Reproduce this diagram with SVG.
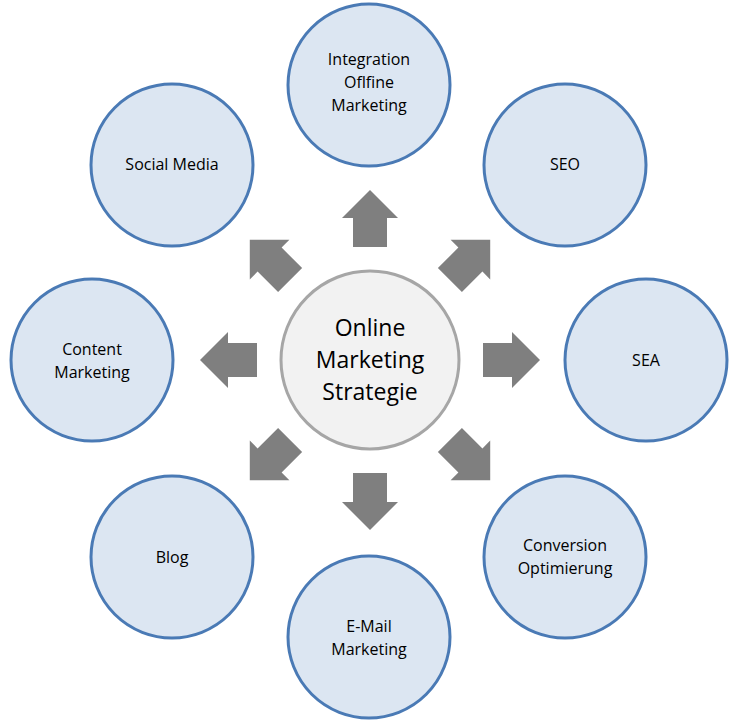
<svg xmlns="http://www.w3.org/2000/svg" width="739" height="723" viewBox="0 0 739 723">
<style>
.n{fill:#dce6f2;stroke:#4a7ab5;stroke-width:3}
.c{fill:#f2f2f2;stroke:#a6a6a6;stroke-width:3}
.t{font-family:"Open Sans","Liberation Sans",sans-serif;font-size:16px;fill:#000;text-anchor:middle}
.ct{font-family:"Open Sans","Liberation Sans",sans-serif;font-size:23px;fill:#000;text-anchor:middle}
.a{fill:#7f7f7f}
</style>
<defs>
<path id="arr" class="a" d="M483,343 L512,343 L512,332 L540,360 L512,388 L512,377 L483,377 Z"/>
</defs>
<rect width="739" height="723" fill="#fff"/>
<g id="connectors">
<use href="#arr"/>
<use href="#arr" transform="rotate(45 370 360)"/>
<use href="#arr" transform="rotate(90 370 360)"/>
<use href="#arr" transform="rotate(135 370 360)"/>
<use href="#arr" transform="rotate(180 370 360)"/>
<use href="#arr" transform="rotate(225 370 360)"/>
<use href="#arr" transform="rotate(270 370 360)"/>
<use href="#arr" transform="rotate(315 370 360)"/>
</g>
<g id="center"><circle class="c" cx="370" cy="360" r="89"/>
<text class="ct" x="370" y="336">Online</text><text class="ct" x="370" y="368">Marketing</text><text class="ct" x="370" y="400">Strategie</text></g>
<g id="integration"><circle class="n" cx="369" cy="85" r="81"/>
<text class="t" x="369" y="65">Integration</text><text class="t" x="369" y="88">Oflfine</text><text class="t" x="369" y="111">Marketing</text></g>
<g id="seo"><circle class="n" cx="565" cy="165" r="81"/><text class="t" x="565" y="170">SEO</text></g>
<g id="sea"><circle class="n" cx="646" cy="360" r="81"/><text class="t" x="646" y="366">SEA</text></g>
<g id="conversion"><circle class="n" cx="565" cy="557" r="81"/>
<text class="t" x="565" y="551">Conversion</text><text class="t" x="565" y="574">Optimierung</text></g>
<g id="email"><circle class="n" cx="369" cy="637" r="81"/>
<text class="t" x="369" y="632">E-Mail</text><text class="t" x="369" y="655">Marketing</text></g>
<g id="blog"><circle class="n" cx="172" cy="557" r="81"/><text class="t" x="172" y="563">Blog</text></g>
<g id="content"><circle class="n" cx="92" cy="360" r="81"/>
<text class="t" x="92" y="355">Content</text><text class="t" x="92" y="378">Marketing</text></g>
<g id="social"><circle class="n" cx="172" cy="165" r="81"/><text class="t" x="172" y="170">Social Media</text></g>
</svg>
